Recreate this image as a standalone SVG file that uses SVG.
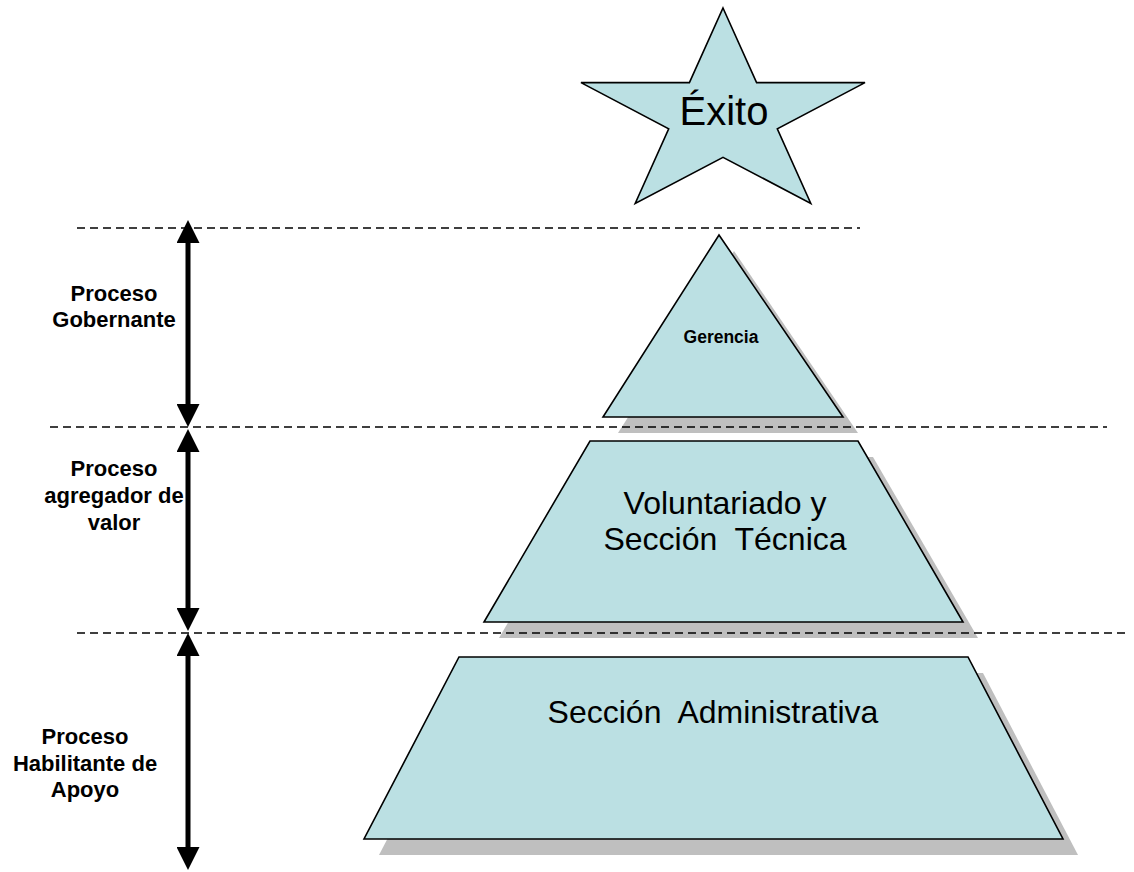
<svg xmlns="http://www.w3.org/2000/svg" width="1134" height="872" viewBox="0 0 1134 872">
<defs>
<style>
.shape{fill:#BBE0E3;stroke:#000;stroke-width:1.6;stroke-linejoin:miter}
.shadow{fill:#BFBFBF;stroke:none}
.dash{stroke:#000;stroke-width:1.3;stroke-dasharray:8 5;fill:none}
.arrow{stroke:#000;stroke-width:5;fill:none;marker-start:url(#ah);marker-end:url(#ah)}
.lbl{font-family:"Liberation Sans",Arial,sans-serif;font-weight:bold;font-size:22px;fill:#000;text-anchor:middle}
.big{font-family:"Liberation Sans",Arial,sans-serif;font-size:32px;fill:#000;text-anchor:middle;white-space:pre}
</style>
<marker id="ah" viewBox="0 0 23 23" refX="0" refY="11.5" markerWidth="23" markerHeight="23" markerUnits="userSpaceOnUse" orient="auto-start-reverse">
<path d="M0,0 L23,11.5 L0,23 z" fill="#000"/>
</marker>
</defs>
<rect width="1134" height="872" fill="#fff"/>
<g id="shadows">
<polygon class="shadow" points="734,251 858,433 618,433"/>
<polygon class="shadow" points="605,457 873,457 978,638 499,638"/>
<polygon class="shadow" points="474,673 983,673 1078,855 379,855"/>
</g>
<g id="guides">
<line class="dash" x1="77" y1="228" x2="860" y2="228"/>
<line class="dash" x1="50" y1="427" x2="1107" y2="427"/>
<line class="dash" x1="77" y1="633" x2="1130" y2="633"/>
</g>
<g id="exito">
<polygon class="shape" points="723,8 756.6,82.6 865,82.6 777.3,128.8 810.8,203.4 723,157.3 635.2,203.4 668.7,128.8 581,82.6 689.4,82.6"/>
<text x="724" y="125" style="font-family:'Liberation Sans',Arial,sans-serif;font-size:40px;text-anchor:middle">Éxito</text>
</g>
<g id="gerencia">
<polygon class="shape" points="719,235 843,417 603,417"/>
<text x="721" y="343" style="font-family:'Liberation Sans',Arial,sans-serif;font-weight:bold;font-size:17.5px;text-anchor:middle">Gerencia</text>
</g>
<g id="voluntariado">
<polygon class="shape" points="590,441 858,441 963,622 484,622"/>
<text class="big" x="725" y="514">Voluntariado y</text>
<text class="big" x="725" y="550">Sección  Técnica</text>
</g>
<g id="administrativa">
<polygon class="shape" points="459,657 968,657 1063,839 364,839"/>
<text class="big" x="713" y="723">Sección  Administrativa</text>
</g>
<g id="connectors">
<line class="arrow" x1="188" y1="243" x2="188" y2="404"/>
<line class="arrow" x1="188" y1="452" x2="188" y2="608"/>
<line class="arrow" x1="188" y1="656" x2="188" y2="847"/>
</g>
<g id="labels">
<text class="lbl" x="114" y="301">Proceso</text>
<text class="lbl" x="114" y="327">Gobernante</text>
<text class="lbl" x="114" y="476">Proceso</text>
<text class="lbl" x="114" y="503">agregador de</text>
<text class="lbl" x="114" y="530">valor</text>
<text class="lbl" x="85" y="744">Proceso</text>
<text class="lbl" x="85" y="771">Habilitante de</text>
<text class="lbl" x="85" y="797">Apoyo</text>
</g>
</svg>
